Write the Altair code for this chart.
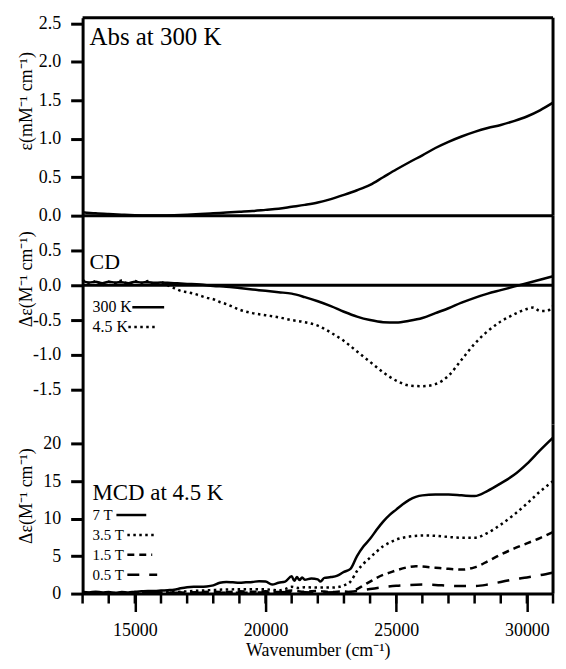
import altair as alt
import pandas as pd

FONT = "Liberation Serif"

# ---------------- data ----------------
x_domain = [13000, 31000]
major_ticks = [15000, 20000, 25000, 30000]
minor_ticks = list(range(13000, 31001, 1000))

abs_wn = [13000, 13500, 14000, 14500, 15000, 15500, 16000, 16500, 17000, 17500,
          18000, 18500, 19000, 19500, 20000, 20500, 21000, 21500, 22000, 22500,
          23000, 23500, 24000, 24500, 25000, 25500, 26000, 26500, 27000, 27500,
          28000, 28500, 29000, 29500, 30000, 30500, 31000]
abs_300k = [0.045, 0.03, 0.02, 0.012, 0.006, 0.003, 0.003, 0.006, 0.012, 0.02,
            0.03, 0.04, 0.05, 0.06, 0.075, 0.09, 0.115, 0.14, 0.17, 0.215,
            0.27, 0.33, 0.4, 0.5, 0.6, 0.695, 0.785, 0.88, 0.96, 1.03,
            1.09, 1.14, 1.18, 1.23, 1.29, 1.37, 1.47]

cd_wn_300 = [13000, 13250, 13500, 13750, 14000, 14250, 14500, 14750, 15000, 15250,
             15500, 15750, 16000, 16250, 16500, 16750, 17000, 17500, 18000, 18500,
             19000, 19500, 20000, 20500, 21000, 21500, 22000, 22500, 23000, 23500,
             24000, 24500, 25000, 25500, 26000, 26500, 27000, 27500, 28000, 28500,
             29000, 29500, 30000, 30500, 31000]
cd_300k = [0.06, 0.04, 0.05, 0.03, 0.05, 0.04, 0.045, 0.03, 0.05, 0.04,
           0.045, 0.035, 0.04, 0.035, 0.03, 0.025, 0.02, 0.01, -0.01, -0.02,
           -0.04, -0.06, -0.08, -0.1, -0.12, -0.17, -0.23, -0.3, -0.38, -0.45,
           -0.5, -0.53, -0.535, -0.51, -0.47, -0.4, -0.33, -0.25, -0.18, -0.12,
           -0.07, -0.02, 0.03, 0.08, 0.13]

cd_wn_45 = [13000, 13250, 13500, 13750, 14000, 14250, 14500, 14750, 15000, 15250,
            15500, 15750, 16000, 16250, 16500, 16750, 17000, 17250, 17500, 17750,
            18000, 18250, 18500, 18750, 19000, 19500, 20000, 20500, 21000, 21500,
            22000, 22500, 23000, 23500, 24000, 24500, 25000, 25500, 26000, 26500,
            27000, 27500, 28000, 28500, 29000, 29500, 30000, 30250, 30500, 30750, 31000]
cd_45k = [0.08, 0.02, 0.06, 0.0, 0.05, 0.03, 0.07, 0.01, 0.06, 0.02,
          0.06, 0.0, 0.04, 0.0, -0.04, -0.08, -0.1, -0.12, -0.15, -0.18,
          -0.2, -0.24, -0.27, -0.31, -0.35, -0.4, -0.43, -0.46, -0.5, -0.53,
          -0.58, -0.68, -0.8, -0.95, -1.1, -1.25, -1.37, -1.44, -1.45, -1.42,
          -1.3, -1.07, -0.84, -0.66, -0.52, -0.42, -0.34, -0.32, -0.37, -0.37, -0.3]

mcd_wn_7 = [13000, 13250, 13500, 13750, 14000, 14250, 14500, 14750, 15000, 15250,
            15500, 15750, 16000, 16250, 16500, 16750, 17000, 17250, 17500, 17750,
            18000, 18250, 18500, 18750, 19000, 19250, 19500, 19750, 20000, 20250,
            20500, 20750, 21000, 21100, 21200, 21300, 21400, 21500, 21750, 22000,
            22100, 22250, 22500, 22750, 23000, 23250, 23500, 23750, 24000, 24250,
            24500, 24750, 25000, 25250, 25500, 25750, 26000, 26500, 27000, 27500,
            28000, 28500, 29000, 29500, 30000, 30500, 31000]
mcd_7t = [0.2, 0.15, 0.25, 0.15, 0.2, 0.1, 0.2, 0.15, 0.25, 0.3,
          0.35, 0.35, 0.4, 0.45, 0.5, 0.7, 0.85, 0.9, 0.9, 0.95,
          1.1, 1.45, 1.55, 1.5, 1.45, 1.5, 1.55, 1.65, 1.6, 1.2,
          1.45, 1.6, 2.3, 1.7, 2.2, 1.8, 2.15, 1.85, 2.0, 1.9,
          1.6, 2.1, 2.2, 2.4, 2.9, 3.3, 5.0, 6.3, 7.3, 8.5,
          9.6, 10.5, 11.2, 11.9, 12.5, 12.9, 13.1, 13.2, 13.2, 13.1,
          13.0, 13.7, 14.7, 15.8, 17.3, 19.1, 20.8]

mcd_wn_35 = [13000, 13500, 14000, 14500, 15000, 15500, 16000, 16500, 17000, 17500,
             18000, 18500, 19000, 19500, 20000, 20250, 20500, 20750, 21000, 21250,
             21500, 22000, 22500, 22750, 23000, 23250, 23500, 23750, 24000, 24250,
             24500, 24750, 25000, 25500, 26000, 26500, 27000, 27500, 28000, 28500,
             29000, 29500, 30000, 30500, 31000]
mcd_35t = [0.1, 0.05, 0.1, 0.05, 0.1, 0.1, 0.15, 0.2, 0.3, 0.4,
           0.48, 0.55, 0.57, 0.58, 0.57, 0.5, 0.42, 0.6, 0.9, 0.75,
           0.85, 0.8, 0.8, 0.85, 1.1, 1.6, 3.0, 4.0, 4.8, 5.6,
           6.3, 6.8, 7.2, 7.6, 7.75, 7.7, 7.55, 7.45, 7.45, 8.1,
           9.2, 10.5, 12.0, 13.6, 15.0]

mcd_wn_15 = [13000, 14000, 15000, 16000, 17000, 18000, 18500, 19000, 19500, 20000,
             20500, 21000, 21500, 22000, 22500, 23000, 23250, 23500, 23750, 24000,
             24250, 24500, 24750, 25000, 25500, 25750, 26000, 26500, 27000, 27500,
             28000, 28500, 29000, 29500, 30000, 30500, 31000]
mcd_15t = [0.1, 0.05, 0.1, 0.1, 0.15, 0.25, 0.2, 0.3, 0.25, 0.3,
           0.2, 0.4, 0.25, 0.35, 0.2, 0.3, 0.15, 0.6, 1.1, 1.6,
           2.1, 2.5, 2.8, 3.1, 3.55, 3.65, 3.6, 3.45, 3.3, 3.2,
           3.5, 4.3, 5.2, 6.0, 6.7, 7.4, 8.2]

mcd_wn_05 = [13000, 14000, 15000, 16000, 17000, 18000, 19000, 20000, 21000, 22000,
             23000, 23500, 24000, 24500, 25000, 25500, 26000, 26500, 27000, 27500,
             28000, 28500, 29000, 29500, 30000, 30500, 31000]
mcd_05t = [0.05, 0.05, 0.05, 0.1, 0.1, 0.15, 0.1, 0.15, 0.2, 0.15,
           0.2, 0.35, 0.6, 0.85, 1.05, 1.15, 1.2, 1.15, 1.05, 1.0,
           1.0, 1.2, 1.55, 1.9, 2.15, 2.45, 2.8]

abs_domain = [0, 2.575]
cd_domain = [-2.0, 1.0]
mcd_domain = [0, 22.55]

# ---------------- helpers ----------------
W = 473
H_ABS, H_CD, H_MCD = 199, 210, 170
TX = -56  # y-title centre, relative to the plot's left edge
xscale = alt.Scale(domain=x_domain, nice=False, zero=False)


def neg_fmt(fmt):
    return "replace(format(datum.value, '%s'), '\u2212', '-')" % fmt


def yaxis(values, fmt):
    return alt.Axis(values=values, labelExpr=neg_fmt(fmt), title=None,
                    tickSize=12, labelPadding=10, labelFontSize=18)


def curve(wn, vals, ydom, yax, xax=None, dash=None):
    df = pd.DataFrame({"wn": wn, "v": vals})
    kw = dict(color="black", strokeWidth=2.5, interpolate="monotone")
    if dash:
        kw["strokeDash"] = dash
        kw["strokeCap"] = "butt"
    return alt.Chart(df).mark_line(**kw).encode(
        x=alt.X("wn:Q", scale=xscale, axis=xax),
        y=alt.Y("v:Q", scale=alt.Scale(domain=ydom, nice=False, zero=False), axis=yax),
    )


def label(text, x, y, size, angle=0, align="left"):
    return alt.Chart(pd.DataFrame({"t": [text]})).mark_text(
        align=align, baseline="middle", font=FONT, fontSize=size, color="black", angle=angle
    ).encode(x=alt.value(x), y=alt.value(y), text="t:N")


def ytitle(text, y):
    return label(text, TX, y, 18, angle=270, align="center")


def sample(x1, x2, y, dash=None):
    kw = dict(color="black", strokeWidth=2.5)
    if dash:
        kw["strokeDash"] = dash
        kw["strokeCap"] = "butt"
    return alt.Chart(pd.DataFrame({"t": [0]})).mark_rule(**kw).encode(
        x=alt.value(x1), x2=alt.value(x2), y=alt.value(y))


def right_border(h):
    return alt.Chart(pd.DataFrame({"t": [0]})).mark_rule(color="black", strokeWidth=3).encode(
        x=alt.value(W), y=alt.value(0), y2=alt.value(h))


def zero_line(ydom, yax):
    return alt.Chart(pd.DataFrame({"v": [0]})).mark_rule(color="black", strokeWidth=3).encode(
        y=alt.Y("v:Q", scale=alt.Scale(domain=ydom, nice=False, zero=False), axis=yax))


DOT = [2.5, 3.5]
DASH = [7, 5]
LDASH = [12, 10]

# ---------------- top panel ----------------
abs_ax = yaxis([0, 0.5, 1, 1.5, 2, 2.5], ".1f")
abs_panel = alt.layer(
    curve(abs_wn, abs_300k, abs_domain, abs_ax),
    zero_line(abs_domain, abs_ax),
    alt.Chart(pd.DataFrame({"t": [0]})).mark_rule(color="black", strokeWidth=3).encode(
        x=alt.value(0), x2=alt.value(W), y=alt.value(0)),
    right_border(H_ABS),
    label("Abs at 300 K", 7, 19, 25),
    ytitle("ε(mM⁻¹ cm⁻¹)", 84),
).properties(width=W, height=H_ABS)

# ---------------- CD panel ----------------
cd_ax = yaxis([-1.5, -1, -0.5, 0, 0.5], ".1f")
cd_panel = alt.layer(
    curve(cd_wn_300, cd_300k, cd_domain, cd_ax),
    curve(cd_wn_45, cd_45k, cd_domain, cd_ax, dash=DOT),
    zero_line(cd_domain, cd_ax),
    right_border(H_CD),
    label("CD", 7, 47, 22),
    label("300 K", 10, 92, 16), sample(50, 82, 92),
    label("4.5 K", 10, 112, 16), sample(46, 75, 112, DOT),
    ytitle("Δε(M⁻¹ cm⁻¹)", 64),
).properties(width=W, height=H_CD)

# ---------------- MCD panel ----------------
xaxis = alt.Axis(values=major_ticks, format="d", title="Wavenumber (cm⁻¹)",
                 tickSize=18, tickWidth=2.5, labelPadding=10, labelFontSize=18,
                 titleFontSize=18, titleY=57, titleBaseline="middle", labelFlush=False)
mcd_ax = yaxis([0, 5, 10, 15, 20], "d")

mcd_panel = alt.layer(
    curve(mcd_wn_7, mcd_7t, mcd_domain, mcd_ax, xaxis),
    curve(mcd_wn_35, mcd_35t, mcd_domain, mcd_ax, xaxis, dash=DOT),
    curve(mcd_wn_15, mcd_15t, mcd_domain, mcd_ax, xaxis, dash=DASH),
    curve(mcd_wn_05, mcd_05t, mcd_domain, mcd_ax, xaxis, dash=LDASH),
    alt.Chart(pd.DataFrame({"wn": minor_ticks})).mark_rule(color="black", strokeWidth=2.5).encode(
        x=alt.X("wn:Q", scale=xscale, axis=xaxis), y=alt.value(H_MCD), y2=alt.value(H_MCD + 10)),
    right_border(H_MCD),
    label("MCD at 4.5 K", 10, 69, 23),
    label("7 T", 10, 91, 15), sample(34, 64, 91),
    label("3.5 T", 10, 111, 15), sample(45, 74, 111, DOT),
    label("1.5 T", 10, 131, 15), sample(45, 70, 131, DASH),
    label("0.5 T", 10, 151, 15), sample(45, 75, 151, LDASH),
    ytitle("Δε(M⁻¹ cm⁻¹)", 72),
).properties(width=W, height=H_MCD)

chart = alt.vconcat(abs_panel, cd_panel, mcd_panel, spacing=0, bounds="flush").properties(
    padding={"left": 10, "top": 4, "right": 0, "bottom": 0}
).configure_view(stroke=None).configure_axis(
    labelFont=FONT, titleFont=FONT, titleFontWeight="normal",
    labelColor="black", titleColor="black", domainColor="black", tickColor="black",
    domainWidth=3, tickWidth=3, grid=False
)

chart.save("out.html", embed_options={"renderer": "svg", "actions": False})
